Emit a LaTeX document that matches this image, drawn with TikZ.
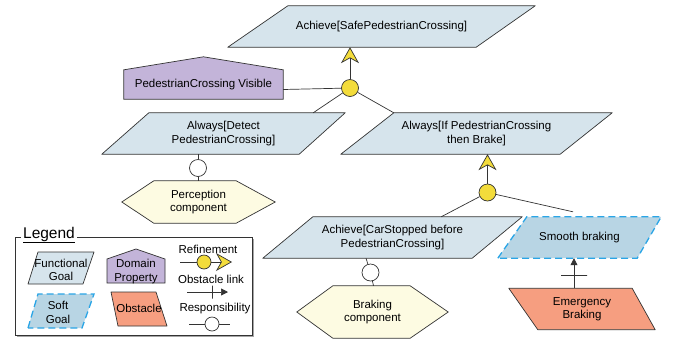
\documentclass[tikz,border=0pt]{standalone}
\usepackage{fontspec}
\setmainfont{Liberation Sans}
\usetikzlibrary{arrows.meta,shadows,backgrounds}

\definecolor{linegray}{HTML}{333333}
\definecolor{goalfill}{HTML}{D6E4EC}
\definecolor{softfill}{HTML}{B8D5E4}
\definecolor{softblue}{HTML}{2AA5E6}
\definecolor{domfill}{HTML}{C3B4D9}
\definecolor{obsfill}{HTML}{F69E80}
\definecolor{agentfill}{HTML}{FDFBE2}
\definecolor{refyellow}{HTML}{F3DC3B}

\tikzset{
  txt/.style={font=\fontsize{11.5}{13.5}\selectfont, align=center, inner sep=0pt},
  box/.style={txt, rectangle},
  line/.style={draw=linegray, line width=.7pt},
  goalpath/.style={draw=linegray, line width=.7pt, fill=goalfill, line join=round},
  softpath/.style={draw=softblue, line width=1.3pt, dash pattern=on 7pt off 4pt, fill=softfill},
  obspath/.style={draw=linegray, line width=.7pt, fill=obsfill, line join=round},
  dompath/.style={draw=linegray, line width=.7pt, fill=domfill},
  agentpath/.style={draw=linegray, line width=.7pt, fill=agentfill},
  refcircle/.style={circle, draw=linegray, line width=.7pt, fill=refyellow, inner sep=0pt, minimum size=17},
  respcircle/.style={circle, draw=linegray, line width=.7pt, fill=white, inner sep=0pt, minimum size=17},
  refarrow/.style={-{Stealth[length=16pt,width=18pt,inset=5pt,fill=refyellow]}},
  obsarrow/.style={-{Triangle[length=7pt,width=7pt]}},
  obsbar/.style={draw=linegray, line width=.7pt, inner sep=0pt, minimum width=26, minimum height=0},
}

\begin{document}
\begin{tikzpicture}[x=1pt,y=-1pt]
	\useasboundingbox (0,0) rectangle (677,341);

	% goals, obstacle, domain property, agents
	\node[box, minimum width=307, minimum height=41] (safe) at (381.5,26.5) {Achieve[SafePedestrianCrossing]};
	\node[box, minimum width=243, minimum height=41] (dpc) at (223.5,133.5) {Always[Detect\\PedestrianCrossing]};
	\node[box, minimum width=271, minimum height=41] (ifb) at (476.5,133.5) {Always[If PedestrianCrossing\\then Brake]};
	\node[box, minimum width=259, minimum height=41] (csb) at (392.5,237.5) {Achieve[CarStopped before\\PedestrianCrossing]};
	\node[box, minimum width=163, minimum height=41] (sb) at (579.5,237.5) {Smooth braking};
	\node[box, minimum width=146, minimum height=41] (eb) at (582,309) {Emergency\\Braking};
	\node[box, minimum width=159, minimum height=29] (pv) at (203.5,84.5) {PedestrianCrossing Visible};
	\node[box, minimum width=153, minimum height=42] (pc) at (198.5,202) {Perception\\component};
	\node[box, minimum width=151, minimum height=52] (bc) at (372.5,312) {Braking\\component};

	\begin{scope}[on background layer]
		\path[goalpath] (safe.south west) -- ([xshift=60]safe.north west) -- (safe.north east) -- ([xshift=-59]safe.south east) -- cycle;
		\path[goalpath] (dpc.south west) -- ([xshift=47]dpc.north west) -- (dpc.north east) -- ([xshift=-46]dpc.south east) -- cycle;
		\path[goalpath] (ifb.south west) -- ([xshift=53]ifb.north west) -- (ifb.north east) -- ([xshift=-52]ifb.south east) -- cycle;
		\path[goalpath] (csb.south west) -- ([xshift=50]csb.north west) -- (csb.north east) -- ([xshift=-50]csb.south east) -- cycle;
		\path[softpath] (sb.south west) -- ([xshift=29]sb.north west) -- (sb.north east) -- ([xshift=-24]sb.south east) -- cycle;
		\path[obspath] ([xshift=29]eb.south west) -- (eb.north west) -- ([xshift=-23]eb.north east) -- (eb.south east) -- cycle;
		\path[dompath] (pv.south west) -- (pv.north west) -- ([yshift=13]pv.north) -- (pv.north east) -- (pv.south east) -- cycle;
		\path[agentpath] (pc.west) -- ([xshift=32]pc.north west) -- ([xshift=-39]pc.north east) -- (pc.east) -- ([xshift=-39]pc.south east) -- ([xshift=32]pc.south west) -- cycle;
		\path[agentpath] (bc.west) -- ([xshift=36]bc.north west) -- ([xshift=-38]bc.north east) -- (bc.east) -- ([xshift=-38]bc.south east) -- ([xshift=36]bc.south west) -- cycle;
	\end{scope}

	% refinements
	\node[refcircle] (r1) at (350,88) {};
	\node[refcircle] (r2) at (487.5,192.5) {};
	\draw[line, refarrow] (r1) -- (r1 |- safe.south);
	\draw[line] (r1) -- ([yshift=-5]pv.east);
	\draw[line] (r1) -- ([xshift=-32]dpc.north east);
	\draw[line] (r1) -- ([xshift=53]ifb.north west);
	\draw[line, refarrow] (r2) -- (r2 |- ifb.south);
	\draw[line] (r2) -- ([xshift=-81]csb.north east);
	\draw[line] (r2) -- ([xshift=-6.5,yshift=5]sb.north);

	% responsibilities
	\node[respcircle] (c1) at (198,168) {};
	\node[respcircle] (c2) at (370.5,272.5) {};
	\draw[line] (c1 |- dpc.south) -- (c1);
	\draw[line] (c1) -- (c1 |- pc.north);
	\draw[line] ([xshift=-26.5]csb.south) -- (c2);
	\draw[line] (c2) -- ([xshift=1]bc.north);

	% obstacle link
	\draw[line, obsarrow] ([xshift=-8]eb.north) -- ([xshift=-8]eb.north |- sb.south) node[pos=.43, obsbar] {};

	% legend
	\node[draw=linegray, line width=.7pt, fill=white, minimum width=237, minimum height=98, drop shadow={shadow xshift=2pt, shadow yshift=-2pt, fill=black, opacity=.35}] (legbox) at (133.5,286) {};
	\node[fill=white, inner sep=2pt, font=\fontsize{15.5}{18}\selectfont] (legtitle) at (49,235) {\underline{Legend}};
	\path[goalpath] (28,284) -- (38,252) -- (94,252) -- (83,284) -- cycle;
	\node[box] (lgoal) at (61,270) {Functional\\Goal};
	\path[dompath] (107,283) -- (107,259) -- (136,249) -- (165,259) -- (165,283) -- cycle;
	\node[box] (ldom) at (136,271.5) {Domain\\Property};
	\path[softpath] (28,328) -- (38,294) -- (94,294) -- (82,328) -- cycle;
	\node[box] (lsoft) at (58,312.5) {Soft\\Goal};
	\path[obspath] (118,326) -- (111,292) -- (156,292) -- (167,326) -- cycle;
	\node[box] (lobs) at (139,308) {Obstacle};

	\node[txt] (lref) at (208,249) {Refinement};
	\node[txt] (lolink) at (211,279) {Obstacle link};
	\node[txt] (lresp) at (215,309) {Responsibility};

	\coordinate (lref0) at (180,262);
	\coordinate (lref1) at (232,262);
	\node[refcircle, minimum size=14] (lrc) at (204,262) {};
	\draw[line] (lref0) -- (lrc);
	\draw[line, refarrow] (lrc) -- (lref1);

	\coordinate (lobs0) at (187,292);
	\coordinate (lobs1) at (228,292);
	\draw[line, obsarrow] (lobs0) -- (lobs1) node[pos=.63, obsbar, rotate=90, minimum width=13] {};

	\coordinate (lresp0) at (189,324);
	\coordinate (lresp1) at (230,324);
	\node[respcircle, minimum size=14] (lcc) at (212,324) {};
	\draw[line] (lresp0) -- (lcc);
	\draw[line] (lcc) -- (lresp1);
\end{tikzpicture}
\end{document}
